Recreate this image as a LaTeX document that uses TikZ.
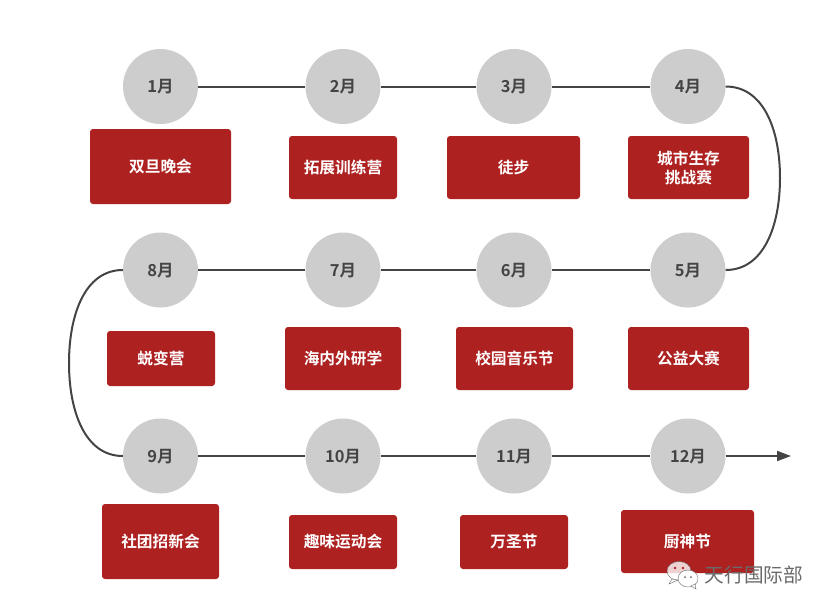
\documentclass[tikz,border=0pt]{standalone}
\usepackage{fontspec}
\setmainfont{Noto Sans CJK SC}[BoldFont={Noto Sans CJK SC Bold}]
\usetikzlibrary{arrows.meta}
\definecolor{boxred}{HTML}{AE2121}
\definecolor{disc}{HTML}{CDCDCD}
\definecolor{inkgray}{HTML}{444444}
\definecolor{wmgray}{HTML}{6A6A6A}
\tikzset{
  month/.style={circle,fill=disc,minimum size=75pt,inner sep=0pt,text=inkgray,text height=12pt,text depth=0pt,font=\bfseries\fontsize{16.5pt}{18pt}\selectfont},
  act/.style={fill=boxred,rounded corners=3pt,inner sep=0pt,text=white,align=center,font=\bfseries\fontsize{15.7pt}{19pt}\selectfont},
  link/.style={draw=inkgray,line width=2pt},
}
\begin{document}
\begin{tikzpicture}[x=1pt,y=-1pt]
\useasboundingbox (0,0) rectangle (831,611);
% months
\node[month] (m1) at (160.5,86.5) {1月};
\node[month] (m2) at (343,86.5) {2月};
\node[month] (m3) at (514,86.5) {3月};
\node[month] (m4) at (688,86.5) {4月};
\node[month] (m5) at (688,270) {5月};
\node[month] (m6) at (514,270) {6月};
\node[month] (m7) at (343,270) {7月};
\node[month] (m8) at (160.5,270) {8月};
\node[month] (m9) at (160.5,456) {9月};
\node[month] (m10) at (343,456) {10月};
\node[month] (m11) at (514,456) {11月};
\node[month] (m12) at (688,456) {12月};
\coordinate (tip) at (791,456);
% connectors
\draw[link] (m1) -- (m2);
\draw[link] (m2) -- (m3);
\draw[link] (m3) -- (m4);
\draw[link] (m4.east) .. controls +(38,0) and +(0,-48) .. (780,178) .. controls +(0,48) and +(38,0) .. (m5.east);
\draw[link] (m5) -- (m6);
\draw[link] (m6) -- (m7);
\draw[link] (m7) -- (m8);
\draw[link] (m8.west) .. controls +(-38,0) and +(0,-48) .. (69,363) .. controls +(0,48) and +(-38,0) .. (m9.west);
\draw[link] (m9) -- (m10);
\draw[link] (m10) -- (m11);
\draw[link] (m11) -- (m12);
\draw[link,-{Stealth[length=14pt,width=10pt,inset=0pt]}] (m12) -- (tip);
% activity boxes
\node[act,minimum width=141pt,minimum height=75pt] (a1) at (160.5,166.5) {双旦晚会};
\node[act,minimum width=108pt,minimum height=63pt] (a2) at (343,167.5) {拓展训练营};
\node[act,minimum width=133pt,minimum height=63pt] (a3) at (513.5,167.5) {徒步};
\node[act,minimum width=121pt,minimum height=63pt] (a4) at (688.5,167.5) {城市生存\\挑战赛};
\node[act,minimum width=121pt,minimum height=63pt] (a5) at (688.5,358.5) {公益大赛};
\node[act,minimum width=117pt,minimum height=63pt] (a6) at (514.5,358.5) {校园音乐节};
\node[act,minimum width=116pt,minimum height=63pt] (a7) at (343,358.5) {海内外研学};
\node[act,minimum width=108pt,minimum height=55pt] (a8) at (161,358.5) {蜕变营};
\node[act,minimum width=117pt,minimum height=75pt] (a9) at (160.5,541.5) {社团招新会};
\node[act,minimum width=108pt,minimum height=54pt] (a10) at (343,542) {趣味运动会};
\node[act,minimum width=108pt,minimum height=54pt] (a11) at (514,542) {万圣节};
\node[act,minimum width=133pt,minimum height=63pt] (a12) at (687.5,541.5) {厨神节};
% watermark
\fill[white,fill opacity=.8,draw=wmgray,line width=.4pt] (679,571) ellipse (12pt and 9.5pt);
\fill[white,fill opacity=.8,draw=wmgray,line width=.4pt] (672,579) -- (669,584) -- (678,580) -- cycle;
\fill[white,draw=wmgray,line width=.4pt] (688,578.5) ellipse (10pt and 8.5pt);
\fill[white,draw=wmgray,line width=.4pt] (691,586) -- (696,589) -- (695,584) -- cycle;
\fill[boxred] (675,568) circle (1.4pt) (683,568) circle (1.4pt);
\fill[wmgray] (685,577) circle (1pt) (691,577) circle (1pt);
\node[text=wmgray,font=\fontsize{19.7pt}{22pt}\selectfont,inner sep=0pt] (wm) at (754,575) {天行国际部};
\end{tikzpicture}
\end{document}
